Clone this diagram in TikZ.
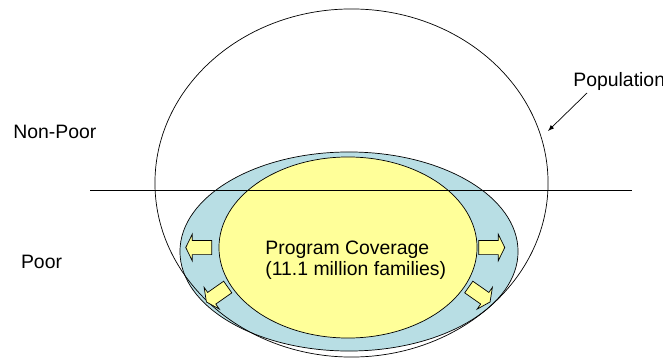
\documentclass[tikz,border=0pt]{standalone}
\usepackage{fontspec}
\setmainfont{Liberation Sans}
\usepackage{tikz}
\usetikzlibrary{positioning,calc}
\usetikzlibrary{arrows}
\usetikzlibrary{shapes}

\definecolor{ringblue}{RGB}{184,222,228}
\definecolor{coveryellow}{RGB}{255,255,153}

\tikzset{
  label text/.style={font=\fontsize{13.8}{14.8}\selectfont, inner sep=0pt},
  push arrow/.style={draw, fill=coveryellow, single arrow, single arrow tip angle=128,
    single arrow head extend=4.4pt, inner xsep=0pt, inner ysep=4.8pt, minimum height=18.5pt, line width=0.5pt}
}

\begin{document}
\begin{tikzpicture}[x=0.025cm, y=-0.025cm, line width=0.5pt]
  % \draw[step=1cm, gray!20!white, very thin] (0,0) grid (663,360);
  \useasboundingbox (0,0) rectangle (663,360);

  \node[draw, ellipse, fill=ringblue, minimum width=8.45cm, minimum height=4.975cm, inner sep=0pt] at (349, 251.5) (ring) {};
  \node[draw, ellipse, fill=coveryellow, minimum width=6.45cm, minimum height=4.525cm, inner sep=0pt] at (348, 247.5) (coverage) {};
  \node[draw, ellipse, minimum width=9.825cm, minimum height=8.7cm, inner sep=0pt] at (351.5, 183) (population) {};

  \coordinate (line_w) at (90, 190);
  \coordinate (line_e) at (632, 190);
  \draw (line_w) -- (line_e);

  \node[label text, align=left, anchor=west] at (265, 260) (coverage_text) {Program Coverage\\(11.1 million families)};

  \node[push arrow, rotate=180] at (200.5, 247.5) (push_w) {};
  \node[push arrow] at (490, 247.5) (push_e) {};
  \node[push arrow, rotate=215] at (218.5, 293.5) (push_sw) {};
  \node[push arrow, rotate=-35] at (478, 293.5) (push_se) {};

  \node[label text, anchor=base west] at (13, 139) (nonpoor) {Non-Poor};
  \node[label text, anchor=base west] at (20.7, 268) (poor) {Poor};
  \node[label text, anchor=base west] at (573, 87) (pop_label) {Population};

  \coordinate (pop_tail) at (587, 93);
  \coordinate (pop_tip) at (548, 131);
  \draw [-latex] (pop_tail) -- (pop_tip);

\end{tikzpicture}
\end{document}
